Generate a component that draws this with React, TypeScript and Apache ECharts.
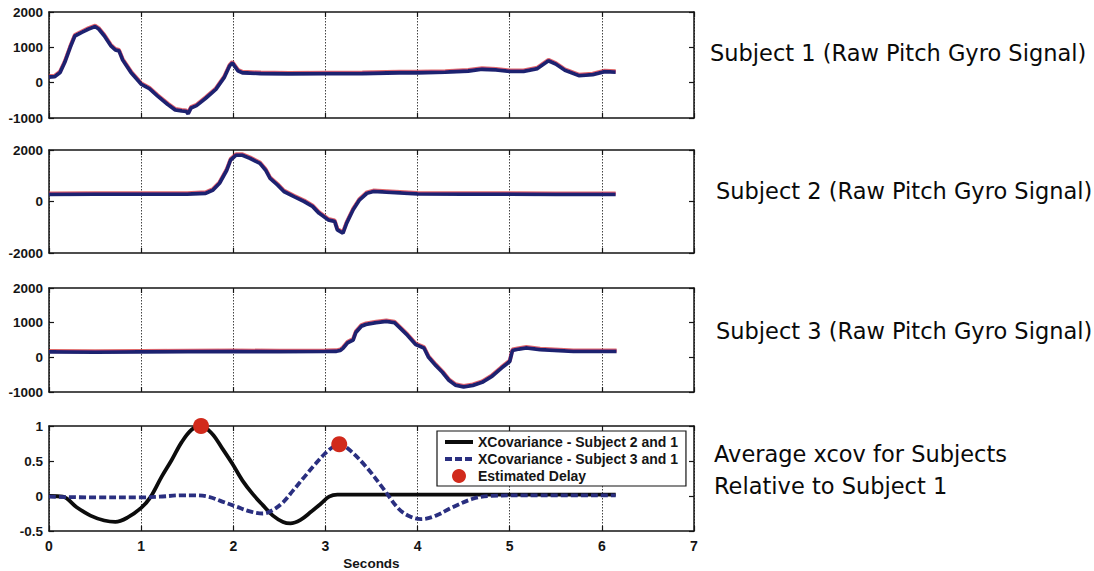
import React, { useEffect, useRef } from "react";
import * as echarts from "echarts";

// ---- Subject 1 raw pitch gyro signal (seconds, deg/s units) ----
const subject1Time = [0, 0.06, 0.12, 0.17, 0.23, 0.28, 0.36, 0.43, 0.5, 0.54, 0.6, 0.67, 0.72, 0.76, 0.8, 0.89, 1.0, 1.09, 1.18, 1.29, 1.37, 1.44, 1.49, 1.51, 1.54, 1.6, 1.7, 1.81, 1.9, 1.96, 1.99, 2.05, 2.1, 2.3, 2.6, 3.0, 3.4, 3.8, 4.0, 4.3, 4.55, 4.7, 4.85, 5.0, 5.15, 5.3, 5.42, 5.5, 5.6, 5.75, 5.9, 6.03, 6.15];
const subject1Value = [160, 170, 290, 570, 1000, 1320, 1430, 1520, 1590, 1520, 1330, 1050, 930, 900, 640, 290, -40, -170, -380, -620, -770, -800, -810, -880, -720, -650, -440, -190, 140, 480, 560, 340, 280, 260, 250, 255, 260, 280, 280, 300, 330, 380, 360, 320, 320, 400, 620, 530, 350, 200, 230, 310, 300];

// ---- Subject 2 raw pitch gyro signal ----
const subject2Time = [0, 0.5, 1.0, 1.5, 1.7, 1.78, 1.85, 1.93, 1.97, 2.03, 2.1, 2.18, 2.29, 2.35, 2.4, 2.48, 2.55, 2.66, 2.77, 2.86, 2.93, 3.03, 3.1, 3.13, 3.19, 3.23, 3.3, 3.37, 3.45, 3.52, 4.0, 4.5, 5.0, 5.5, 6.15];
const subject2Value = [280, 285, 285, 290, 320, 450, 710, 1225, 1610, 1800, 1800, 1680, 1480, 1225, 900, 645, 390, 190, 0, -190, -450, -710, -770, -1100, -1225, -840, -320, 65, 320, 390, 300, 290, 290, 280, 280];

// ---- Subject 3 raw pitch gyro signal ----
const subject3Time = [0, 0.5, 1.0, 1.5, 2.0, 2.5, 3.0, 3.12, 3.16, 3.19, 3.24, 3.3, 3.33, 3.39, 3.44, 3.55, 3.66, 3.75, 3.82, 3.89, 3.98, 4.07, 4.12, 4.2, 4.27, 4.34, 4.41, 4.5, 4.6, 4.7, 4.81, 4.91, 5.0, 5.03, 5.1, 5.18, 5.33, 5.69, 6.16];
const subject3Value = [160, 150, 160, 165, 170, 165, 170, 175, 200, 260, 420, 500, 720, 900, 950, 1000, 1040, 1000, 820, 640, 370, 270, 0, -240, -430, -660, -800, -850, -810, -720, -540, -310, -120, 200, 240, 270, 220, 170, 170];

// ---- Average cross-covariance relative to Subject 1 ----
const xcov21Time = [0, 0.15, 0.3, 0.45, 0.6, 0.72, 0.85, 1.0, 1.1, 1.22, 1.33, 1.44, 1.55, 1.65, 1.77, 1.88, 1.99, 2.1, 2.21, 2.32, 2.43, 2.54, 2.62, 2.73, 2.84, 2.95, 3.04, 3.13, 3.3, 4.0, 5.0, 6.15];
const xcov21Value = [0, -0.01, -0.16, -0.28, -0.35, -0.37, -0.31, -0.17, -0.02, 0.27, 0.51, 0.77, 0.95, 1.0, 0.89, 0.68, 0.46, 0.22, 0.03, -0.13, -0.28, -0.37, -0.39, -0.34, -0.23, -0.11, -0.01, 0.02, 0.02, 0.02, 0.02, 0.02];

const xcov31Time = [0, 0.5, 1.0, 1.2, 1.44, 1.58, 1.73, 1.88, 2.03, 2.18, 2.32, 2.43, 2.54, 2.65, 2.77, 2.88, 2.99, 3.08, 3.15, 3.26, 3.44, 3.62, 3.8, 3.93, 4.04, 4.2, 4.38, 4.6, 4.78, 5.2, 6.15];
const xcov31Value = [-0.01, -0.02, -0.02, -0.01, 0.01, 0.01, -0.01, -0.08, -0.15, -0.22, -0.25, -0.2, -0.09, 0.08, 0.27, 0.44, 0.6, 0.7, 0.74, 0.66, 0.42, 0.12, -0.19, -0.3, -0.33, -0.28, -0.16, -0.04, 0, 0.01, 0.01];

// Estimated delay = peak of each cross-covariance
const delayTime = [1.65, 3.15];
const delayValue = [1.0, 0.74];

// y-axis ranges per panel: [min, max, interval]
const yRanges: [number, number, number][] = [
  [-1000, 2000, 1000],
  [-2000, 2000, 2000],
  [-1000, 2000, 1000],
  [-0.5, 1, 0.5],
];

const panelTitles = [
  "Subject 1 (Raw Pitch Gyro Signal)",
  "Subject 2 (Raw Pitch Gyro Signal)",
  "Subject 3 (Raw Pitch Gyro Signal)",
];
const xcovTitle = ["Average xcov for Subjects", "Relative to Subject 1"];
const legendNames = [
  "XCovariance - Subject 2 and 1",
  "XCovariance - Subject 3 and 1",
  "Estimated Delay",
];

const zip = (t: number[], v: number[]) => t.map((x, i) => [x, v[i]]);

const AXIS_FONT = '"Liberation Sans", Arial, Helvetica, sans-serif';
const TITLE_FONT = '"DejaVu Sans", "Noto Sans", sans-serif';
const INK = "#151515";
const NAVY = "#1f2170";
const RED = "#d12a1c";

const gridBoxes = [
  { top: 12, height: 106 },
  { top: 150, height: 103 },
  { top: 288, height: 104 },
  { top: 426, height: 105 },
];
const GRID_LEFT = 49;
const GRID_WIDTH = 645;

function buildOption(): echarts.EChartsOption {
  const frame = { show: true, onZero: false, lineStyle: { color: INK, width: 1.5 } };
  const tick = { show: true, inside: true, length: 5, lineStyle: { color: INK, width: 1.2 } };
  const labelStyle = {
    fontFamily: AXIS_FONT,
    fontWeight: "bold" as const,
    fontSize: 13.5,
    color: INK,
  };

  const grid = gridBoxes.map((g) => ({
    left: GRID_LEFT,
    width: GRID_WIDTH,
    top: g.top,
    height: g.height,
    show: true,
    backgroundColor: "#ffffff",
    borderWidth: 0,
  }));

  const xAxis: any[] = [];
  const yAxis: any[] = [];
  gridBoxes.forEach((_, i) => {
    const last = i === gridBoxes.length - 1;
    xAxis.push({
      type: "value",
      gridIndex: i,
      min: 0,
      max: 7,
      interval: 1,
      position: "bottom",
      axisLine: frame,
      axisTick: tick,
      axisLabel: { show: last, margin: 8, ...labelStyle, fontSize: 14 },
      splitLine: { show: true, lineStyle: { color: "#444", width: 1, type: [1.5, 1.5] } },
      name: last ? "Seconds" : "",
      nameLocation: "middle",
      nameGap: 25,
      nameTextStyle: { ...labelStyle, fontSize: 13.5 },
    });
    xAxis.push({
      type: "value",
      gridIndex: i,
      min: 0,
      max: 7,
      interval: 1,
      position: "top",
      axisLine: frame,
      axisTick: tick,
      axisLabel: { show: false },
      splitLine: { show: false },
    });
    const [mn, mx, iv] = yRanges[i];
    yAxis.push({
      type: "value",
      gridIndex: i,
      min: mn,
      max: mx,
      interval: iv,
      position: "left",
      axisLine: frame,
      axisTick: tick,
      axisLabel: {
        show: true,
        margin: 6,
        ...labelStyle,
        formatter: (v: number) => String(v),
      },
      splitLine: { show: false },
    });
    yAxis.push({
      type: "value",
      gridIndex: i,
      min: mn,
      max: mx,
      interval: iv,
      position: "right",
      axisLine: frame,
      axisTick: tick,
      axisLabel: { show: false },
      splitLine: { show: false },
    });
  });

  const gyroLine = (name: string, t: number[], v: number[], i: number) => ({
    name,
    type: "line",
    xAxisIndex: i * 2,
    yAxisIndex: i * 2,
    data: zip(t, v),
    symbol: "none",
    showSymbol: false,
    lineStyle: {
      color: NAVY,
      width: 3.8,
      shadowColor: "rgba(210,40,40,0.7)",
      shadowOffsetY: -1,
      shadowBlur: 0,
    },
    itemStyle: { color: NAVY },
    z: 3,
  });

  const series: any[] = [
    gyroLine("Subject 1", subject1Time, subject1Value, 0),
    gyroLine("Subject 2", subject2Time, subject2Value, 1),
    gyroLine("Subject 3", subject3Time, subject3Value, 2),
    {
      name: legendNames[0],
      type: "line",
      xAxisIndex: 6,
      yAxisIndex: 6,
      data: zip(xcov21Time, xcov21Value),
      smooth: 0.35,
      symbol: "none",
      showSymbol: false,
      lineStyle: { color: "#0c0c0c", width: 3.8 },
      itemStyle: { color: "#0c0c0c" },
      z: 3,
    },
    {
      name: legendNames[1],
      type: "line",
      xAxisIndex: 6,
      yAxisIndex: 6,
      data: zip(xcov31Time, xcov31Value),
      smooth: 0.35,
      symbol: "none",
      showSymbol: false,
      lineStyle: { color: "#2a2f80", width: 3.8, type: [7, 3] },
      itemStyle: { color: "#2a2f80" },
      z: 4,
    },
    {
      name: legendNames[2],
      type: "scatter",
      xAxisIndex: 6,
      yAxisIndex: 6,
      data: zip(delayTime, delayValue),
      symbol: "circle",
      symbolSize: 16,
      itemStyle: { color: RED, opacity: 1 },
      z: 5,
    },
  ];

  const titleStyle = {
    fontFamily: TITLE_FONT,
    fontSize: 22.5,
    fill: "#0a0a0a",
  };
  const titleY = [55, 193, 333];
  const graphic: any[] = panelTitles.map((txt, i) => ({
    type: "text",
    left: i === 0 ? 710 : 716,
    top: titleY[i] - 14,
    style: { ...titleStyle, text: txt },
  }));
  graphic.push({
    type: "text",
    left: 714,
    top: 438,
    style: { ...titleStyle, text: xcovTitle.join("\n"), lineHeight: 32 },
  });

  // line entries show only their stroke in the legend, no marker
  const lineOnly = { itemStyle: { opacity: 0 }, lineStyle: { width: 4 } };

  return {
    animation: false,
    backgroundColor: "#ffffff",
    grid,
    xAxis,
    yAxis,
    series,
    legend: {
      show: true,
      data: [
        { name: legendNames[0], ...lineOnly },
        { name: legendNames[1], ...lineOnly },
        { name: legendNames[2] },
      ],
      orient: "vertical",
      left: 437,
      top: 431,
      padding: [4, 8, 3, 6],
      itemGap: 3,
      itemWidth: 28,
      itemHeight: 14,
      selectedMode: false,
      backgroundColor: "#ffffff",
      borderColor: INK,
      borderWidth: 1.2,
      textStyle: {
        fontFamily: AXIS_FONT,
        fontWeight: "bold",
        fontSize: 14,
        color: INK,
      },
    },
    graphic,
  };
}

export default function App() {
  const ref = useRef<HTMLDivElement>(null);
  useEffect(() => {
    if (!ref.current) return;
    const chart = echarts.init(ref.current, null, { renderer: "svg" });
    chart.setOption(buildOption());
    return () => chart.dispose();
  }, []);
  return (
    <div
      ref={ref}
      style={{
        position: "fixed",
        left: 0,
        top: 0,
        width: 1094,
        height: 571,
        background: "#ffffff",
      }}
    />
  );
}
